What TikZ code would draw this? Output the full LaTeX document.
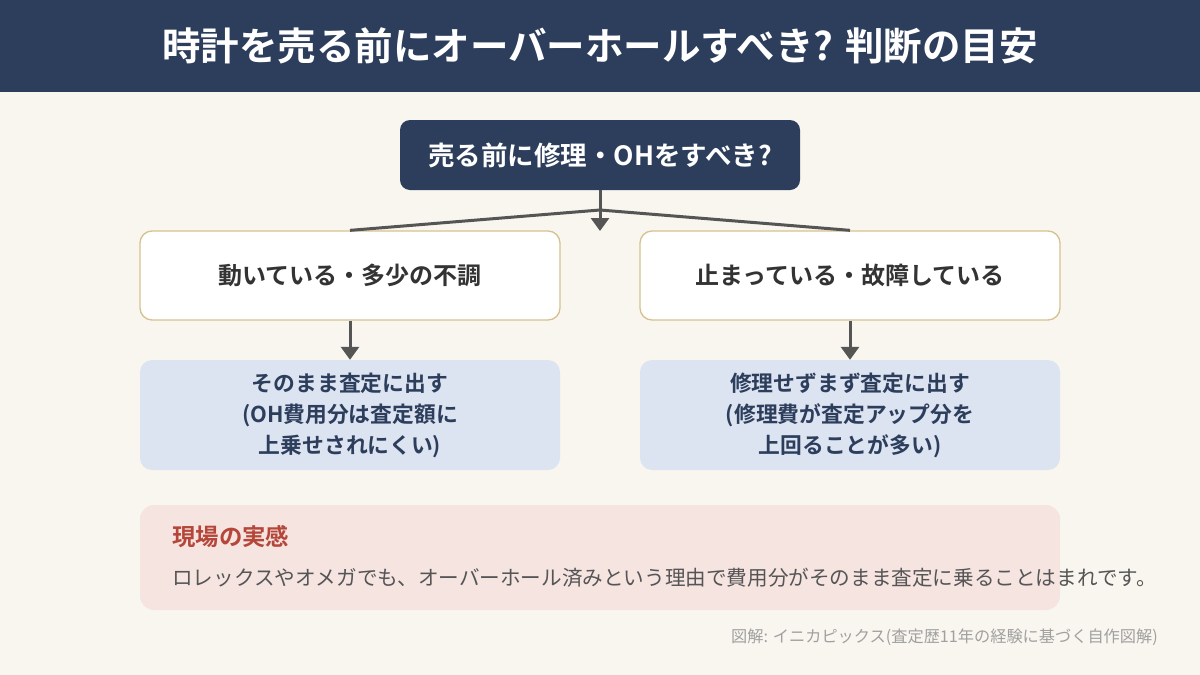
\documentclass[tikz,border=0pt]{standalone}
\usepackage{fontspec}
\setmainfont{Noto Sans CJK JP}[BoldFont={Noto Sans CJK JP Bold}]
\usetikzlibrary{arrows.meta}
\definecolor{navy}{HTML}{2D3E5C}
\definecolor{bg}{HTML}{F9F6EF}
\definecolor{gold}{HTML}{D6C28E}
\definecolor{lblue}{HTML}{DDE4F1}
\definecolor{pink}{HTML}{F6E4E1}
\definecolor{redh}{HTML}{B5463A}
\definecolor{arrowgray}{HTML}{555555}
\definecolor{dtext}{HTML}{333333}
\definecolor{btext}{HTML}{555555}
\definecolor{ftext}{HTML}{A0A0A0}
\tikzset{
  qbox/.style={fill=navy, rounded corners=10pt, minimum width=400pt, minimum height=70pt, text=white, font=\bfseries\fontsize{26.5}{30}\selectfont},
  cbox/.style={fill=white, draw=gold, line width=1.3pt, rounded corners=12pt, minimum width=420pt, minimum height=89pt, text=dtext, font=\bfseries\fontsize{24}{28}\selectfont},
  rbox/.style={fill=lblue, rounded corners=12pt, minimum width=420pt, minimum height=110pt, text=navy, align=center, font=\bfseries\fontsize{21.8}{31}\selectfont},
  conn/.style={draw=arrowgray, line width=3pt},
  arr/.style={conn, -{Triangle[width=18pt,length=13pt]}},
}
\begin{document}
\begin{tikzpicture}[x=1pt,y=-1pt]
\useasboundingbox (0,0) rectangle (1200,675);
\fill[bg] (0,0) rectangle (1200,675);
\fill[navy] (0,0) rectangle (1200,92);
\node[text=white, font=\bfseries\fontsize{38.5}{42}\selectfont] (title) at (600,46) {時計を売る前にオーバーホールすべき? 判断の目安};
\node[qbox] (q) at (600,155) {売る前に修理・OHをすべき?};
\node[cbox] (lb) at (350,275.5) {動いている・多少の不調};
\node[cbox] (rb) at (850,275.5) {止まっている・故障している};
\node[rbox] (lr) at (350,415) {そのまま査定に出す\\(OH費用分は査定額に\\上乗せされにくい)};
\node[rbox] (rr) at (850,415) {修理せずまず査定に出す\\(修理費が査定アップ分を\\上回ることが多い)};
\coordinate (j) at (600,210);
\coordinate (qe) at (600,231);
\draw[conn] (lb.north) -- (j) -- (rb.north);
\draw[arr] (q.south) -- (qe);
\draw[arr] (lb.south) -- (lr.north);
\draw[arr] (rb.south) -- (rr.north);
\fill[pink, rounded corners=14pt] (140,505) rectangle (1060,610);
\node[anchor=west, inner sep=0pt, text=redh, font=\bfseries\fontsize{23.4}{27}\selectfont] (h) at (172,537) {現場の実感};
\node[anchor=west, inner sep=0pt, text=btext, font=\fontsize{20.6}{24}\selectfont] (body) at (172,578) {ロレックスやオメガでも、オーバーホール済みという理由で費用分がそのまま査定に乗ることはまれです。};
\node[anchor=east, inner sep=0pt, text=ftext, font=\fontsize{16.2}{20}\selectfont] (foot) at (1158,637) {図解: イニカピックス(査定歴11年の経験に基づく自作図解)};
\end{tikzpicture}
\end{document}
